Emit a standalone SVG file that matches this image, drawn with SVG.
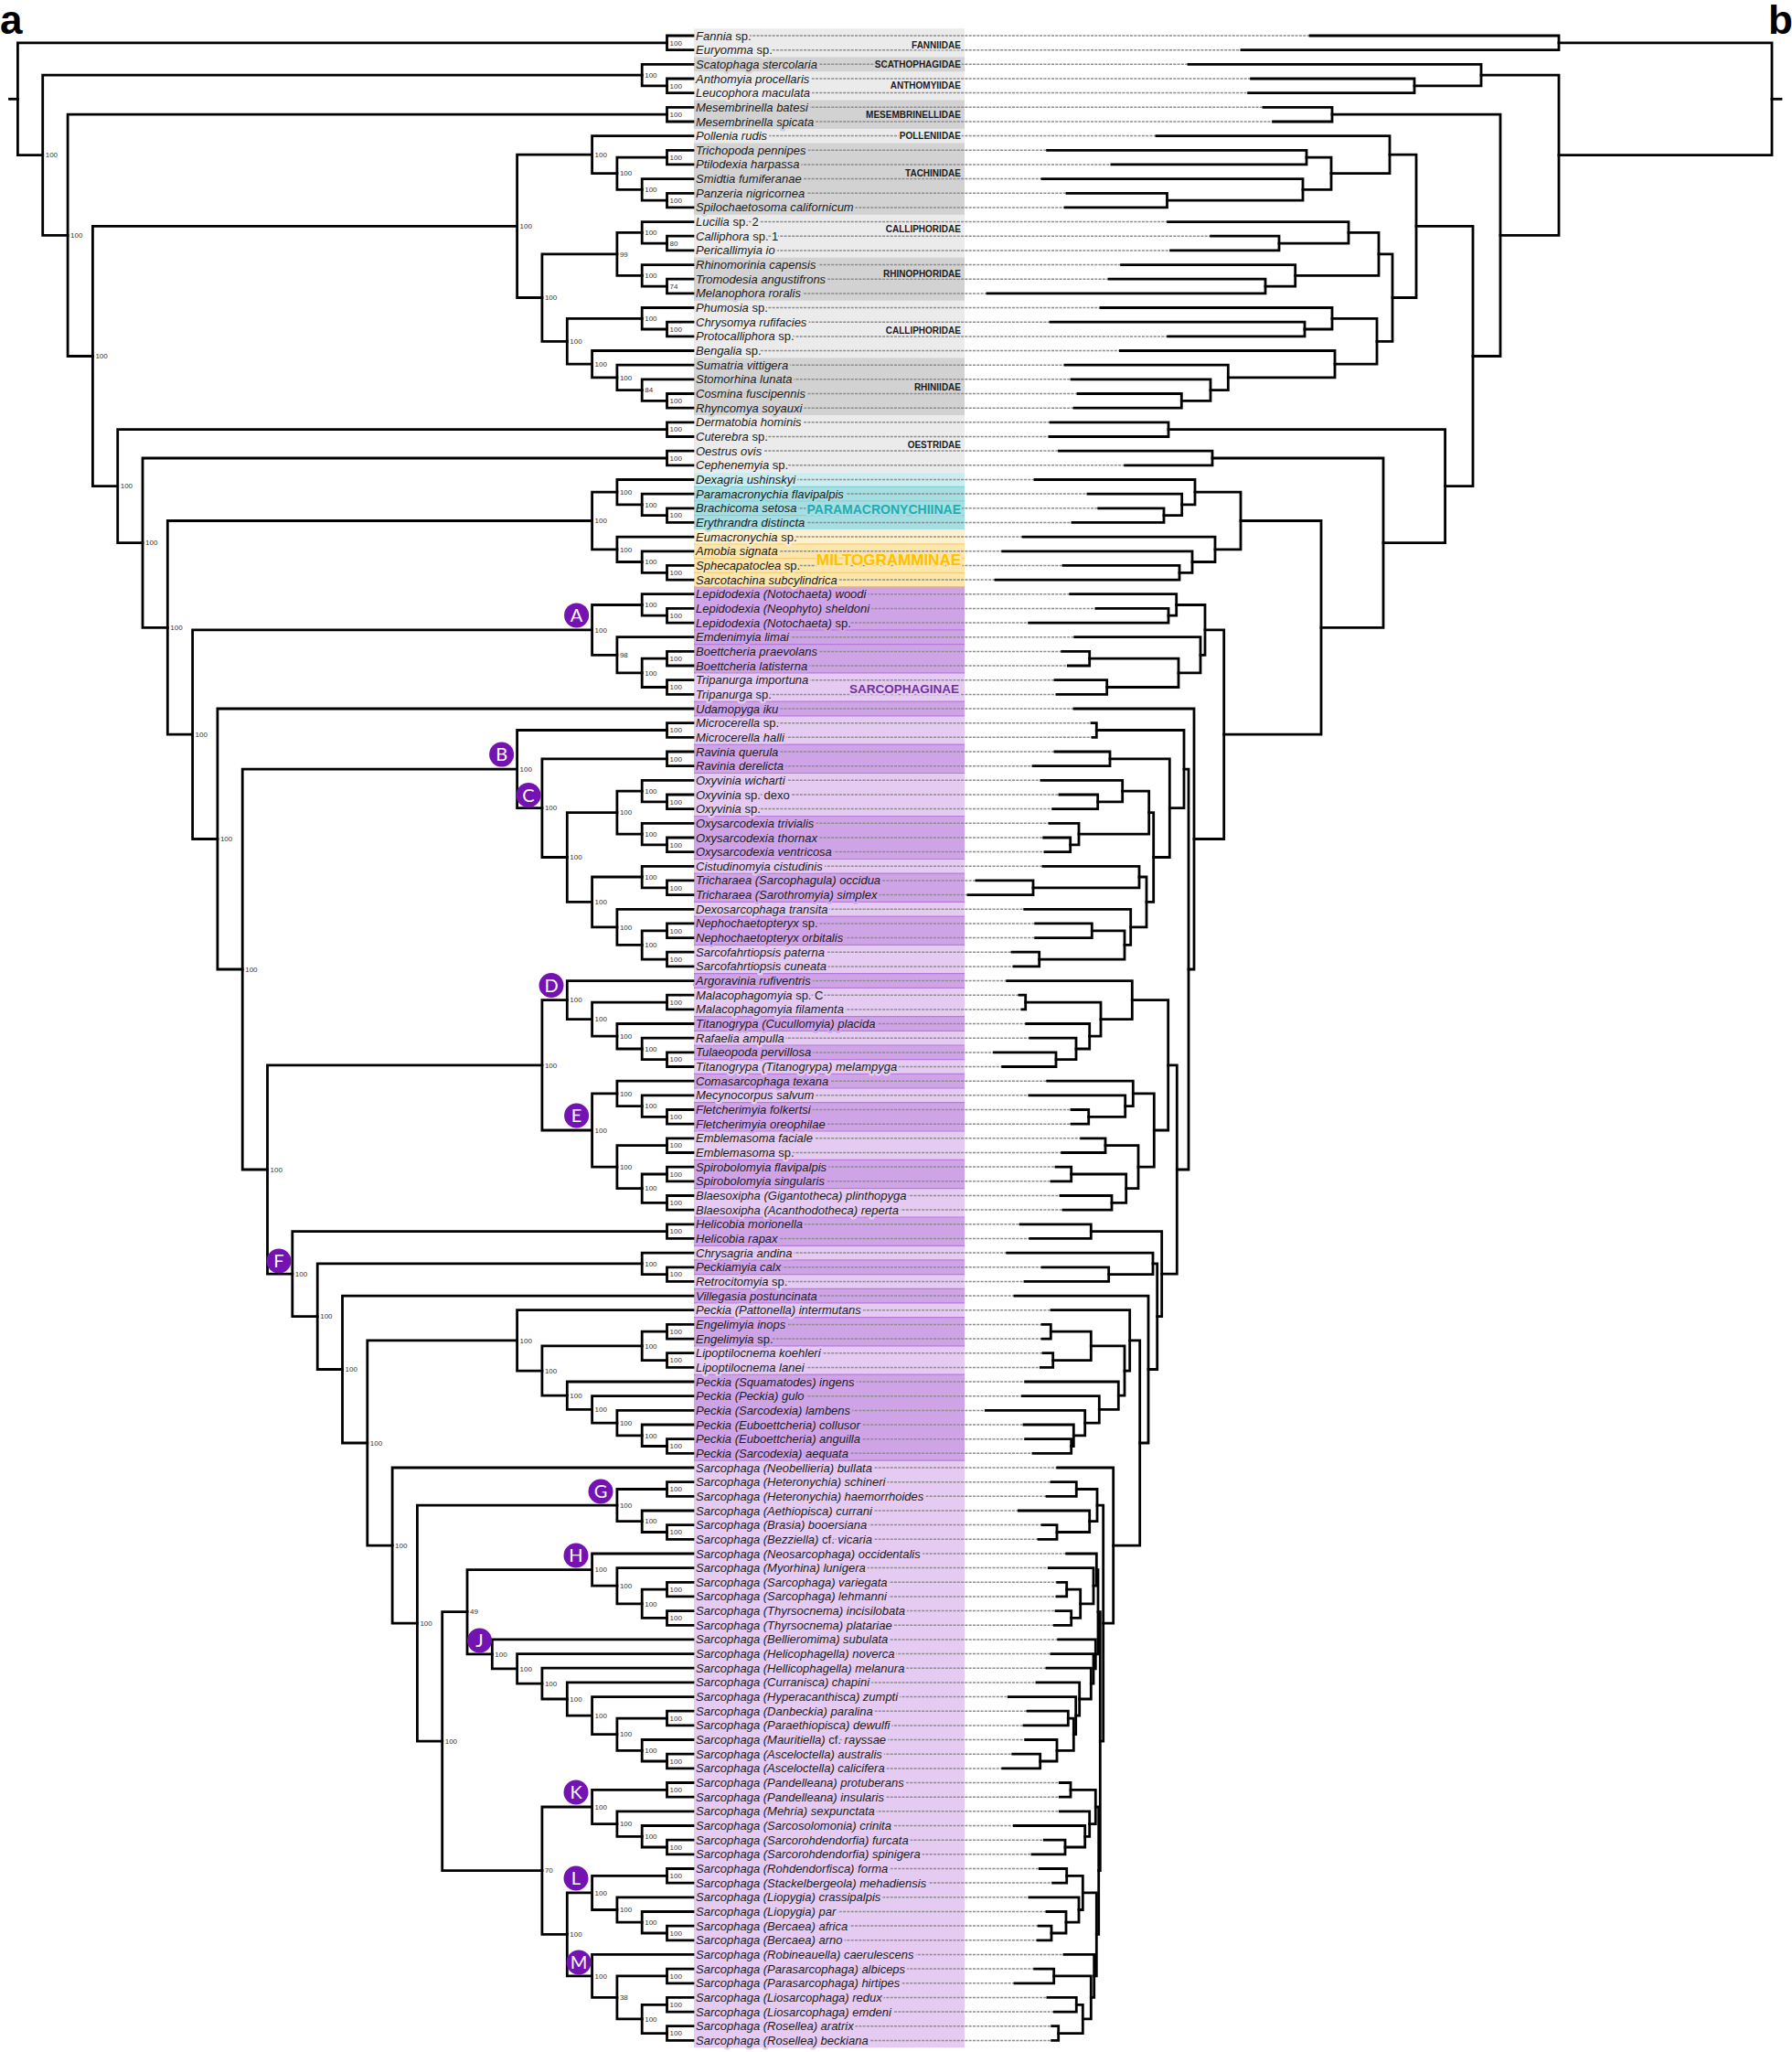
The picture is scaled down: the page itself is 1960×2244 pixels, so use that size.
<svg xmlns="http://www.w3.org/2000/svg" width="1960" height="2244" viewBox="0 0 1960 2244">
<style>
text{font-family:"Liberation Sans",Arial,sans-serif}
.b-g1{fill:#ebebeb}.b-g2{fill:#d2d2d2}.b-c1{fill:#c9edf0}.b-c2{fill:#a6dee2}.b-y1{fill:#fdf0cc}.b-y2{fill:#fde6ab}.b-p1{fill:#cfa4e7}.b-p2{fill:#e5cbf1}
.hg1{stroke:#ebebeb}.hg2{stroke:#d2d2d2}.hc1{stroke:#c9edf0}.hc2{stroke:#a6dee2}.hy1{stroke:#fdf0cc}.hy2{stroke:#fde6ab}.hp1{stroke:#cfa4e7}.hp2{stroke:#e5cbf1}
.sep{fill:none;stroke:#b47cd8;stroke-width:1.2}
.dash{fill:none;stroke:#8c8c8c;stroke-width:1.5;stroke-dasharray:3 1.3}
.br{fill:none;stroke:#000;stroke-width:2.8;stroke-linecap:square;stroke-linejoin:miter}
.tl text{font-size:13px;font-style:italic;fill:#1b1b1b;stroke-width:5;stroke-linejoin:round;paint-order:stroke}
.r{font-style:normal}
.fam{font-size:10px;font-weight:bold;fill:#1b1b1b;text-anchor:end;stroke-width:3;stroke-linejoin:round;paint-order:stroke}
.big{font-weight:bold;text-anchor:end;stroke-width:4;stroke-linejoin:round;paint-order:stroke}
.bs text{font-size:8px;fill:#333}
.cl circle{fill:#7412b2}
.cl text{font-family:Lato,"Liberation Sans",sans-serif;font-size:20px;fill:#fff;text-anchor:middle}
.pl{font-weight:bold;font-size:44px;fill:#000}
</style>
<rect width="1960" height="2244" fill="#fff"/>
<g id="bands">
<rect class="b-g1" x="759" y="31.2" width="296" height="485.4"/>
<rect class="b-g2" x="759" y="62.5" width="296" height="15.7"/>
<rect class="b-g2" x="759" y="109.5" width="296" height="31.3"/>
<rect class="b-g2" x="759" y="156.5" width="296" height="78.3"/>
<rect class="b-g2" x="759" y="281.7" width="296" height="47"/>
<rect class="b-g2" x="759" y="391.4" width="296" height="62.6"/>
<rect class="b-c1" x="759" y="516.6" width="296" height="15.7"/>
<rect class="b-c2" x="759" y="532.3" width="296" height="47"/>
<rect class="b-y1" x="759" y="579.3" width="296" height="15.7"/>
<rect class="b-y2" x="759" y="594.9" width="296" height="47"/>
<rect class="b-p2" x="759" y="641.9" width="296" height="1597.3"/>
<rect class="b-p1" x="759" y="641.9" width="296" height="94"/>
<rect class="b-p1" x="759" y="767.2" width="296" height="15.7"/>
<rect class="b-p1" x="759" y="814.2" width="296" height="31.3"/>
<rect class="b-p1" x="759" y="892.5" width="296" height="47"/>
<rect class="b-p1" x="759" y="955.1" width="296" height="31.3"/>
<rect class="b-p1" x="759" y="1002.1" width="296" height="31.3"/>
<rect class="b-p1" x="759" y="1064.7" width="296" height="15.7"/>
<rect class="b-p1" x="759" y="1111.7" width="296" height="15.7"/>
<rect class="b-p1" x="759" y="1143" width="296" height="15.7"/>
<rect class="b-p1" x="759" y="1174.4" width="296" height="15.7"/>
<rect class="b-p1" x="759" y="1205.7" width="296" height="31.3"/>
<rect class="b-p1" x="759" y="1268.3" width="296" height="31.3"/>
<rect class="b-p1" x="759" y="1331" width="296" height="31.3"/>
<rect class="b-p1" x="759" y="1377.9" width="296" height="15.7"/>
<rect class="b-p1" x="759" y="1409.3" width="296" height="15.7"/>
<rect class="b-p1" x="759" y="1440.6" width="296" height="31.3"/>
<rect class="b-p1" x="759" y="1503.2" width="296" height="94"/>
<path fill="none" stroke="#86d0d6" stroke-width="1.2" d="M759 532.3H1055M759 547.9H1055M759 563.6H1055"/>
<path fill="none" stroke="#f3cf7c" stroke-width="1.2" d="M759 594.9H1055M759 610.6H1055M759 626.3H1055"/>
<path fill="none" stroke="#e9ae72" stroke-width="1.4" d="M759 641.9H1055"/>
<path class="sep" d="M759 688.9H1055M759 704.6H1055M759 735.9H1055M759 767.2H1055M759 782.9H1055M759 814.2H1055M759 845.5H1055M759 892.5H1055M759 939.5H1055M759 955.1H1055M759 986.4H1055M759 1002.1H1055M759 1033.4H1055M759 1064.7H1055M759 1080.4H1055M759 1111.7H1055M759 1127.4H1055M759 1143H1055M759 1158.7H1055M759 1174.4H1055M759 1190H1055M759 1205.7H1055M759 1237H1055M759 1268.3H1055M759 1299.6H1055M759 1331H1055M759 1362.3H1055M759 1377.9H1055M759 1393.6H1055M759 1409.3H1055M759 1424.9H1055M759 1440.6H1055M759 1471.9H1055M759 1503.2H1055M759 1597.2H1055"/>
</g>
<g id="leaders">
<path class="dash" d="M763 39H1433M763 54.7H1358M763 70.3H1300M763 86H1368.6M763 101.6H1365.6M763 117.3H1382M763 133H1392.6M763 148.6H1265M763 164.3H1145.6M763 179.9H1216M763 195.6H1140M763 211.3H1167M763 226.9H1165M763 242.6H1277.6M763 258.2H1324.6M763 273.9H1280.6M763 289.6H1226.6M763 305.2H1213M763 320.9H1080M763 336.5H1204M763 352.2H1149M763 367.9H1277.6M763 383.5H1225.4M763 399.2H1165M763 414.8H1172M763 430.5H1179M763 446.2H1175M763 461.8H1149M763 477.5H1148M763 493.1H1158.5M763 508.8H1230.7M763 524.5H1132M763 540.1H1190M763 555.8H1201.7M763 571.4H1173M763 587.1H1119M763 602.8H1096.7M763 618.4H1163M763 634.1H1089M763 649.7H1170.7M763 665.4H1199M763 681.1H1125.7M763 696.7H1175.7M763 712.4H1161.7M763 728H1168.3M763 743.7H1154M763 759.4H1156M763 775H1175M763 790.7H1194M763 806.3H1195M763 822H1154M763 837.7H1130M763 853.3H1139M763 869H1159M763 884.6H1151.7M763 900.3H1148M763 916H1141.7M763 931.6H1143M763 947.3H1141M763 962.9H1068M763 978.6H1059M763 994.3H1120.7M763 1009.9H1132.7M763 1025.6H1132.7M763 1041.2H1107M763 1056.9H1109M763 1072.6H1101.7M763 1088.2H1115M763 1103.9H1118M763 1119.5H1122.7M763 1135.2H1126.7M763 1150.9H1087.3M763 1166.5H1096.7M763 1182.2H1145.7M763 1197.8H1126M763 1213.5H1172M763 1229.2H1172M763 1244.8H1182.7M763 1260.5H1161.7M763 1276.1H1155M763 1291.8H1150M763 1307.5H1160M763 1323.1H1163M763 1338.8H1116M763 1354.4H1126.7M763 1370.1H1101.7M763 1385.8H1140M763 1401.4H1121M763 1417.1H1110M763 1432.7H1150M763 1448.4H1140M763 1464.1H1140M763 1479.7H1141M763 1495.4H1138.3M763 1511H1121.7M763 1526.7H1118.3M763 1542.4H1078.3M763 1558H1120M763 1573.7H1121.7M763 1589.3H1130M763 1605H1156.7M763 1620.7H1150M763 1636.3H1145M763 1652H1114.3M763 1667.6H1140M763 1683.3H1136M763 1699H1166.7M763 1714.6H1147.3M763 1730.3H1156.7M763 1745.9H1156M763 1761.6H1155M763 1777.3H1153.3M763 1792.9H1157.7M763 1808.6H1150M763 1824.2H1145M763 1839.9H1134M763 1855.6H1103.3M763 1871.2H1124M763 1886.9H1120M763 1902.5H1121.7M763 1918.2H1107.7M763 1933.9H1096.7M763 1949.5H1159.3M763 1965.2H1159.3M763 1980.8H1159.3M763 1996.5H1109.3M763 2012.2H1142.3M763 2027.8H1129M763 2043.5H1137.3M763 2059.1H1151.7M763 2074.8H1126M763 2090.5H1145M763 2106.1H1136M763 2121.8H1135M763 2137.4H1164M763 2153.1H1131.7M763 2168.8H1110M763 2184.4H1146M763 2200.1H1153.3M763 2215.7H1150.7M763 2231.4H1150.7"/>
</g>
<g id="taxa" class="tl" transform="translate(761,4.5)">
<g id="t0"><text class="hg1" y="39">Fannia<tspan class="r"> sp.</tspan></text></g>
<g id="t1"><text class="hg1" y="54.7">Euryomma<tspan class="r"> sp.</tspan></text></g>
<g id="t2"><text class="hg2" y="70.3">Scatophaga stercolaria</text></g>
<g id="t3"><text class="hg1" y="86">Anthomyia procellaris</text></g>
<g id="t4"><text class="hg1" y="101.6">Leucophora maculata</text></g>
<g id="t5"><text class="hg2" y="117.3">Mesembrinella batesi</text></g>
<g id="t6"><text class="hg2" y="133">Mesembrinella spicata</text></g>
<g id="t7"><text class="hg1" y="148.6">Pollenia rudis</text></g>
<g id="t8"><text class="hg2" y="164.3">Trichopoda pennipes</text></g>
<g id="t9"><text class="hg2" y="179.9">Ptilodexia harpassa</text></g>
<g id="t10"><text class="hg2" y="195.6">Smidtia fumiferanae</text></g>
<g id="t11"><text class="hg2" y="211.3">Panzeria nigricornea</text></g>
<g id="t12"><text class="hg2" y="226.9">Spilochaetosoma californicum</text></g>
<g id="t13"><text class="hg1" y="242.6">Lucilia<tspan class="r"> sp. 2</tspan></text></g>
<g id="t14"><text class="hg1" y="258.2">Calliphora<tspan class="r"> sp. 1</tspan></text></g>
<g id="t15"><text class="hg1" y="273.9">Pericallimyia io</text></g>
<g id="t16"><text class="hg2" y="289.6">Rhinomorinia capensis</text></g>
<g id="t17"><text class="hg2" y="305.2">Tromodesia angustifrons</text></g>
<g id="t18"><text class="hg2" y="320.9">Melanophora roralis</text></g>
<g id="t19"><text class="hg1" y="336.5">Phumosia<tspan class="r"> sp.</tspan></text></g>
<g id="t20"><text class="hg1" y="352.2">Chrysomya rufifacies</text></g>
<g id="t21"><text class="hg1" y="367.9">Protocalliphora<tspan class="r"> sp.</tspan></text></g>
<g id="t22"><text class="hg1" y="383.5">Bengalia<tspan class="r"> sp.</tspan></text></g>
<g id="t23"><text class="hg2" y="399.2">Sumatria vittigera</text></g>
<g id="t24"><text class="hg2" y="414.8">Stomorhina lunata</text></g>
<g id="t25"><text class="hg2" y="430.5">Cosmina fuscipennis</text></g>
<g id="t26"><text class="hg2" y="446.2">Rhyncomya soyauxi</text></g>
<g id="t27"><text class="hg1" y="461.8">Dermatobia hominis</text></g>
<g id="t28"><text class="hg1" y="477.5">Cuterebra<tspan class="r"> sp.</tspan></text></g>
<g id="t29"><text class="hg1" y="493.1">Oestrus ovis</text></g>
<g id="t30"><text class="hg1" y="508.8">Cephenemyia<tspan class="r"> sp.</tspan></text></g>
<g id="t31"><text class="hc1" y="524.5">Dexagria ushinskyi</text></g>
<g id="t32"><text class="hc2" y="540.1">Paramacronychia flavipalpis</text></g>
<g id="t33"><text class="hc2" y="555.8">Brachicoma setosa</text></g>
<g id="t34"><text class="hc2" y="571.4">Erythrandra distincta</text></g>
<g id="t35"><text class="hy1" y="587.1">Eumacronychia<tspan class="r"> sp.</tspan></text></g>
<g id="t36"><text class="hy2" y="602.8">Amobia signata</text></g>
<g id="t37"><text class="hy2" y="618.4">Sphecapatoclea<tspan class="r"> sp.</tspan></text></g>
<g id="t38"><text class="hy2" y="634.1">Sarcotachina subcylindrica</text></g>
<g id="t39"><text class="hp1" y="649.7">Lepidodexia (Notochaeta) woodi</text></g>
<g id="t40"><text class="hp1" y="665.4">Lepidodexia (Neophyto) sheldoni</text></g>
<g id="t41"><text class="hp1" y="681.1">Lepidodexia (Notochaeta)<tspan class="r"> sp.</tspan></text></g>
<g id="t42"><text class="hp1" y="696.7">Emdenimyia limai</text></g>
<g id="t43"><text class="hp1" y="712.4">Boettcheria praevolans</text></g>
<g id="t44"><text class="hp1" y="728">Boettcheria latisterna</text></g>
<g id="t45"><text class="hp2" y="743.7">Tripanurga importuna</text></g>
<g id="t46"><text class="hp2" y="759.4">Tripanurga<tspan class="r"> sp.</tspan></text></g>
<g id="t47"><text class="hp1" y="775">Udamopyga iku</text></g>
<g id="t48"><text class="hp2" y="790.7">Microcerella<tspan class="r"> sp.</tspan></text></g>
<g id="t49"><text class="hp2" y="806.3">Microcerella halli</text></g>
<g id="t50"><text class="hp1" y="822">Ravinia querula</text></g>
<g id="t51"><text class="hp1" y="837.7">Ravinia derelicta</text></g>
<g id="t52"><text class="hp2" y="853.3">Oxyvinia wicharti</text></g>
<g id="t53"><text class="hp2" y="869">Oxyvinia<tspan class="r"> sp. dexo</tspan></text></g>
<g id="t54"><text class="hp2" y="884.6">Oxyvinia<tspan class="r"> sp.</tspan></text></g>
<g id="t55"><text class="hp1" y="900.3">Oxysarcodexia trivialis</text></g>
<g id="t56"><text class="hp1" y="916">Oxysarcodexia thornax</text></g>
<g id="t57"><text class="hp1" y="931.6">Oxysarcodexia ventricosa</text></g>
<g id="t58"><text class="hp2" y="947.3">Cistudinomyia cistudinis</text></g>
<g id="t59"><text class="hp1" y="962.9">Tricharaea (Sarcophagula) occidua</text></g>
<g id="t60"><text class="hp1" y="978.6">Tricharaea (Sarothromyia) simplex</text></g>
<g id="t61"><text class="hp2" y="994.3">Dexosarcophaga transita</text></g>
<g id="t62"><text class="hp1" y="1009.9">Nephochaetopteryx<tspan class="r"> sp.</tspan></text></g>
<g id="t63"><text class="hp1" y="1025.6">Nephochaetopteryx orbitalis</text></g>
<g id="t64"><text class="hp2" y="1041.2">Sarcofahrtiopsis paterna</text></g>
<g id="t65"><text class="hp2" y="1056.9">Sarcofahrtiopsis cuneata</text></g>
<g id="t66"><text class="hp1" y="1072.6">Argoravinia rufiventris</text></g>
<g id="t67"><text class="hp2" y="1088.2">Malacophagomyia<tspan class="r"> sp. C</tspan></text></g>
<g id="t68"><text class="hp2" y="1103.9">Malacophagomyia filamenta</text></g>
<g id="t69"><text class="hp1" y="1119.5">Titanogrypa (Cucullomyia) placida</text></g>
<g id="t70"><text class="hp2" y="1135.2">Rafaelia ampulla</text></g>
<g id="t71"><text class="hp1" y="1150.9">Tulaeopoda pervillosa</text></g>
<g id="t72"><text class="hp2" y="1166.5">Titanogrypa (Titanogrypa) melampyga</text></g>
<g id="t73"><text class="hp1" y="1182.2">Comasarcophaga texana</text></g>
<g id="t74"><text class="hp2" y="1197.8">Mecynocorpus salvum</text></g>
<g id="t75"><text class="hp1" y="1213.5">Fletcherimyia folkertsi</text></g>
<g id="t76"><text class="hp1" y="1229.2">Fletcherimyia oreophilae</text></g>
<g id="t77"><text class="hp2" y="1244.8">Emblemasoma faciale</text></g>
<g id="t78"><text class="hp2" y="1260.5">Emblemasoma<tspan class="r"> sp.</tspan></text></g>
<g id="t79"><text class="hp1" y="1276.1">Spirobolomyia flavipalpis</text></g>
<g id="t80"><text class="hp1" y="1291.8">Spirobolomyia singularis</text></g>
<g id="t81"><text class="hp2" y="1307.5">Blaesoxipha (Gigantotheca) plinthopyga</text></g>
<g id="t82"><text class="hp2" y="1323.1">Blaesoxipha (Acanthodotheca) reperta</text></g>
<g id="t83"><text class="hp1" y="1338.8">Helicobia morionella</text></g>
<g id="t84"><text class="hp1" y="1354.4">Helicobia rapax</text></g>
<g id="t85"><text class="hp2" y="1370.1">Chrysagria andina</text></g>
<g id="t86"><text class="hp1" y="1385.8">Peckiamyia calx</text></g>
<g id="t87"><text class="hp2" y="1401.4">Retrocitomyia<tspan class="r"> sp.</tspan></text></g>
<g id="t88"><text class="hp1" y="1417.1">Villegasia postuncinata</text></g>
<g id="t89"><text class="hp2" y="1432.7">Peckia (Pattonella) intermutans</text></g>
<g id="t90"><text class="hp1" y="1448.4">Engelimyia inops</text></g>
<g id="t91"><text class="hp1" y="1464.1">Engelimyia<tspan class="r"> sp.</tspan></text></g>
<g id="t92"><text class="hp2" y="1479.7">Lipoptilocnema koehleri</text></g>
<g id="t93"><text class="hp2" y="1495.4">Lipoptilocnema lanei</text></g>
<g id="t94"><text class="hp1" y="1511">Peckia (Squamatodes) ingens</text></g>
<g id="t95"><text class="hp1" y="1526.7">Peckia (Peckia) gulo</text></g>
<g id="t96"><text class="hp1" y="1542.4">Peckia (Sarcodexia) lambens</text></g>
<g id="t97"><text class="hp1" y="1558">Peckia (Euboettcheria) collusor</text></g>
<g id="t98"><text class="hp1" y="1573.7">Peckia (Euboettcheria) anguilla</text></g>
<g id="t99"><text class="hp1" y="1589.3">Peckia (Sarcodexia) aequata</text></g>
<g id="t100"><text class="hp2" y="1605">Sarcophaga (Neobellieria) bullata</text></g>
<g id="t101"><text class="hp2" y="1620.7">Sarcophaga (Heteronychia) schineri</text></g>
<g id="t102"><text class="hp2" y="1636.3">Sarcophaga (Heteronychia) haemorrhoides</text></g>
<g id="t103"><text class="hp2" y="1652">Sarcophaga (Aethiopisca) currani</text></g>
<g id="t104"><text class="hp2" y="1667.6">Sarcophaga (Brasia) booersiana</text></g>
<g id="t105"><text class="hp2" y="1683.3">Sarcophaga (Bezziella)<tspan class="r"> cf. </tspan>vicaria</text></g>
<g id="t106"><text class="hp2" y="1699">Sarcophaga (Neosarcophaga) occidentalis</text></g>
<g id="t107"><text class="hp2" y="1714.6">Sarcophaga (Myorhina) lunigera</text></g>
<g id="t108"><text class="hp2" y="1730.3">Sarcophaga (Sarcophaga) variegata</text></g>
<g id="t109"><text class="hp2" y="1745.9">Sarcophaga (Sarcophaga) lehmanni</text></g>
<g id="t110"><text class="hp2" y="1761.6">Sarcophaga (Thyrsocnema) incisilobata</text></g>
<g id="t111"><text class="hp2" y="1777.3">Sarcophaga (Thyrsocnema) platariae</text></g>
<g id="t112"><text class="hp2" y="1792.9">Sarcophaga (Bellieromima) subulata</text></g>
<g id="t113"><text class="hp2" y="1808.6">Sarcophaga (Helicophagella) noverca</text></g>
<g id="t114"><text class="hp2" y="1824.2">Sarcophaga (Hellicophagella) melanura</text></g>
<g id="t115"><text class="hp2" y="1839.9">Sarcophaga (Curranisca) chapini</text></g>
<g id="t116"><text class="hp2" y="1855.6">Sarcophaga (Hyperacanthisca) zumpti</text></g>
<g id="t117"><text class="hp2" y="1871.2">Sarcophaga (Danbeckia) paralina</text></g>
<g id="t118"><text class="hp2" y="1886.9">Sarcophaga (Paraethiopisca) dewulfi</text></g>
<g id="t119"><text class="hp2" y="1902.5">Sarcophaga (Mauritiella)<tspan class="r"> cf. </tspan>rayssae</text></g>
<g id="t120"><text class="hp2" y="1918.2">Sarcophaga (Asceloctella) australis</text></g>
<g id="t121"><text class="hp2" y="1933.9">Sarcophaga (Asceloctella) calicifera</text></g>
<g id="t122"><text class="hp2" y="1949.5">Sarcophaga (Pandelleana) protuberans</text></g>
<g id="t123"><text class="hp2" y="1965.2">Sarcophaga (Pandelleana) insularis</text></g>
<g id="t124"><text class="hp2" y="1980.8">Sarcophaga (Mehria) sexpunctata</text></g>
<g id="t125"><text class="hp2" y="1996.5">Sarcophaga (Sarcosolomonia) crinita</text></g>
<g id="t126"><text class="hp2" y="2012.2">Sarcophaga (Sarcorohdendorfia) furcata</text></g>
<g id="t127"><text class="hp2" y="2027.8">Sarcophaga (Sarcorohdendorfia) spinigera</text></g>
<g id="t128"><text class="hp2" y="2043.5">Sarcophaga (Rohdendorfisca) forma</text></g>
<g id="t129"><text class="hp2" y="2059.1">Sarcophaga (Stackelbergeola) mehadiensis</text></g>
<g id="t130"><text class="hp2" y="2074.8">Sarcophaga (Liopygia) crassipalpis</text></g>
<g id="t131"><text class="hp2" y="2090.5">Sarcophaga (Liopygia) par</text></g>
<g id="t132"><text class="hp2" y="2106.1">Sarcophaga (Bercaea) africa</text></g>
<g id="t133"><text class="hp2" y="2121.8">Sarcophaga (Bercaea) arno</text></g>
<g id="t134"><text class="hp2" y="2137.4">Sarcophaga (Robineauella) caerulescens</text></g>
<g id="t135"><text class="hp2" y="2153.1">Sarcophaga (Parasarcophaga) albiceps</text></g>
<g id="t136"><text class="hp2" y="2168.8">Sarcophaga (Parasarcophaga) hirtipes</text></g>
<g id="t137"><text class="hp2" y="2184.4">Sarcophaga (Liosarcophaga) redux</text></g>
<g id="t138"><text class="hp2" y="2200.1">Sarcophaga (Liosarcophaga) emdeni</text></g>
<g id="t139"><text class="hp2" y="2215.7">Sarcophaga (Rosellea) aratrix</text></g>
<g id="t140"><text class="hp2" y="2231.4">Sarcophaga (Rosellea) beckiana</text></g>
</g>
<g id="groups">
<text class="fam hg1" x="1051" y="52.9">FANNIIDAE</text>
<text class="fam hg2" x="1051" y="74">SCATHOPHAGIDAE</text>
<text class="fam hg1" x="1051" y="97.4">ANTHOMYIIDAE</text>
<text class="fam hg2" x="1051" y="128.8">MESEMBRINELLIDAE</text>
<text class="fam hg1" x="1051" y="152.4">POLLENIIDAE</text>
<text class="fam hg2" x="1051" y="192.6">TACHINIDAE</text>
<text class="fam hg1" x="1051" y="254.3">CALLIPHORIDAE</text>
<text class="fam hg2" x="1051" y="302.9">RHINOPHORIDAE</text>
<text class="fam hg1" x="1051" y="365.3">CALLIPHORIDAE</text>
<text class="fam hg2" x="1051" y="426.9">RHINIIDAE</text>
<text class="fam hg1" x="1051" y="489.6">OESTRIDAE</text>
<text class="big hc2" x="1051" y="561.7" font-size="14" fill="#1eadb2">PARAMACRONYCHIINAE</text>
<text class="big hy2" x="1051" y="618.4" font-size="17" fill="#ffc000">MILTOGRAMMINAE</text>
<text class="big hp2" x="1049" y="758.2" font-size="13.5" fill="#7030a0">SARCOPHAGINAE</text>
</g>
<g id="connectors">
<g id="tree-a" class="br">
<path d="M10.5 108.3H19.4"/>
<path d="M758 39H729.5V54.7H758"/>
<path d="M758 86H729.5V101.6H758"/>
<path d="M758 70.3H702.2V93.8H729.5"/>
<path d="M758 117.3H729.5V133H758"/>
<path d="M758 164.3H729.5V179.9H758"/>
<path d="M758 211.3H729.5V226.9H758"/>
<path d="M758 195.6H702.2V219.1H729.5"/>
<path d="M729.5 172.1H674.9V207.4H702.2"/>
<path d="M758 148.6H647.6V189.7H674.9"/>
<path d="M758 258.2H729.5V273.9H758"/>
<path d="M758 242.6H702.2V266.1H729.5"/>
<path d="M758 305.2H729.5V320.9H758"/>
<path d="M758 289.6H702.2V313.1H729.5"/>
<path d="M702.2 254.3H674.9V301.3H702.2"/>
<path d="M758 352.2H729.5V367.9H758"/>
<path d="M758 336.5H702.2V360H729.5"/>
<path d="M758 430.5H729.5V446.2H758"/>
<path d="M758 414.8H702.2V438.3H729.5"/>
<path d="M758 399.2H674.9V426.6H702.2"/>
<path d="M758 383.5H647.6V412.9H674.9"/>
<path d="M702.2 348.3H620.3V398.2H647.6"/>
<path d="M674.9 277.8H592.9V373.3H620.3"/>
<path d="M647.6 169.2H565.6V325.5H592.9"/>
<path d="M758 461.8H729.5V477.5H758"/>
<path d="M758 493.1H729.5V508.8H758"/>
<path d="M758 555.8H729.5V571.4H758"/>
<path d="M758 540.1H702.2V563.6H729.5"/>
<path d="M758 524.5H674.9V551.9H702.2"/>
<path d="M758 618.4H729.5V634.1H758"/>
<path d="M758 602.8H702.2V626.3H729.5"/>
<path d="M758 587.1H674.9V614.5H702.2"/>
<path d="M674.9 538.2H647.6V600.8H674.9"/>
<path d="M758 665.4H729.5V681.1H758"/>
<path d="M758 649.7H702.2V673.2H729.5"/>
<path d="M758 712.4H729.5V728H758"/>
<path d="M758 743.7H729.5V759.4H758"/>
<path d="M729.5 720.2H702.2V751.5H729.5"/>
<path d="M758 696.7H674.9V735.9H702.2"/>
<path d="M702.2 661.5H647.6V716.3H674.9"/>
<path d="M758 790.7H729.5V806.3H758"/>
<path d="M758 822H729.5V837.7H758"/>
<path d="M758 869H729.5V884.6H758"/>
<path d="M758 853.3H702.2V876.8H729.5"/>
<path d="M758 916H729.5V931.6H758"/>
<path d="M758 900.3H702.2V923.8H729.5"/>
<path d="M702.2 865.1H674.9V912.1H702.2"/>
<path d="M758 962.9H729.5V978.6H758"/>
<path d="M758 947.3H702.2V970.8H729.5"/>
<path d="M758 1009.9H729.5V1025.6H758"/>
<path d="M758 1041.2H729.5V1056.9H758"/>
<path d="M729.5 1017.8H702.2V1049.1H729.5"/>
<path d="M758 994.3H674.9V1033.4H702.2"/>
<path d="M702.2 959H647.6V1013.8H674.9"/>
<path d="M674.9 888.6H620.3V986.4H647.6"/>
<path d="M729.5 829.8H592.9V937.5H620.3"/>
<path d="M729.5 798.5H565.6V883.7H592.9"/>
<path d="M758 1088.2H729.5V1103.9H758"/>
<path d="M758 1150.9H729.5V1166.5H758"/>
<path d="M758 1135.2H702.2V1158.7H729.5"/>
<path d="M758 1119.5H674.9V1147H702.2"/>
<path d="M729.5 1096.1H647.6V1133.2H674.9"/>
<path d="M758 1072.6H620.3V1114.7H647.6"/>
<path d="M758 1213.5H729.5V1229.2H758"/>
<path d="M758 1197.8H702.2V1221.3H729.5"/>
<path d="M758 1182.2H674.9V1209.6H702.2"/>
<path d="M758 1244.8H729.5V1260.5H758"/>
<path d="M758 1276.1H729.5V1291.8H758"/>
<path d="M758 1307.5H729.5V1323.1H758"/>
<path d="M729.5 1284H702.2V1315.3H729.5"/>
<path d="M729.5 1252.7H674.9V1299.6H702.2"/>
<path d="M674.9 1195.9H647.6V1276.1H674.9"/>
<path d="M620.3 1093.6H592.9V1236H647.6"/>
<path d="M758 1338.8H729.5V1354.4H758"/>
<path d="M758 1385.8H729.5V1401.4H758"/>
<path d="M758 1370.1H702.2V1393.6H729.5"/>
<path d="M758 1448.4H729.5V1464.1H758"/>
<path d="M758 1479.7H729.5V1495.4H758"/>
<path d="M729.5 1456.2H702.2V1487.6H729.5"/>
<path d="M758 1573.7H729.5V1589.3H758"/>
<path d="M758 1558H702.2V1581.5H729.5"/>
<path d="M758 1542.4H674.9V1569.8H702.2"/>
<path d="M758 1526.7H647.6V1556.1H674.9"/>
<path d="M758 1511H620.3V1541.4H647.6"/>
<path d="M702.2 1471.9H592.9V1526.2H620.3"/>
<path d="M758 1432.7H565.6V1499.1H592.9"/>
<path d="M758 1620.7H729.5V1636.3H758"/>
<path d="M758 1667.6H729.5V1683.3H758"/>
<path d="M758 1652H702.2V1675.5H729.5"/>
<path d="M729.5 1628.5H674.9V1663.7H702.2"/>
<path d="M758 1730.3H729.5V1745.9H758"/>
<path d="M758 1761.6H729.5V1777.3H758"/>
<path d="M729.5 1738.1H702.2V1769.4H729.5"/>
<path d="M758 1714.6H674.9V1753.8H702.2"/>
<path d="M758 1699H647.6V1734.2H674.9"/>
<path d="M758 1918.2H729.5V1933.9H758"/>
<path d="M758 1902.5H702.2V1926H729.5"/>
<path d="M758 1871.2H729.5V1886.9H758"/>
<path d="M729.5 1879.1H674.9V1914.3H702.2"/>
<path d="M758 1855.6H647.6V1896.7H674.9"/>
<path d="M758 1839.9H620.3V1876.1H647.6"/>
<path d="M758 1824.2H592.9V1858H620.3"/>
<path d="M758 1808.6H565.6V1841.1H592.9"/>
<path d="M758 1792.9H538.3V1824.9H565.6"/>
<path d="M647.6 1716.6H511V1808.9H538.3"/>
<path d="M758 1949.5H729.5V1965.2H758"/>
<path d="M758 2012.2H729.5V2027.8H758"/>
<path d="M758 1996.5H702.2V2020H729.5"/>
<path d="M758 1980.8H674.9V2008.3H702.2"/>
<path d="M729.5 1957.4H647.6V1994.6H674.9"/>
<path d="M758 2043.5H729.5V2059.1H758"/>
<path d="M758 2106.1H729.5V2121.8H758"/>
<path d="M758 2090.5H702.2V2114H729.5"/>
<path d="M758 2074.8H674.9V2102.2H702.2"/>
<path d="M729.5 2051.3H647.6V2088.5H674.9"/>
<path d="M758 2153.1H729.5V2168.8H758"/>
<path d="M758 2184.4H729.5V2200.1H758"/>
<path d="M758 2215.7H729.5V2231.4H758"/>
<path d="M729.5 2192.3H702.2V2223.6H729.5"/>
<path d="M729.5 2160.9H674.9V2207.9H702.2"/>
<path d="M758 2137.4H647.6V2184.4H674.9"/>
<path d="M647.6 2069.9H620.3V2160.9H647.6"/>
<path d="M647.6 1976H592.9V2115.4H620.3"/>
<path d="M511 1762.7H483.7V2045.7H592.9"/>
<path d="M674.9 1646.1H456.4V1904.2H483.7"/>
<path d="M758 1605H429.1V1775.2H456.4"/>
<path d="M565.6 1465.9H401.8V1690.1H429.1"/>
<path d="M758 1417.1H374.5V1578H401.8"/>
<path d="M702.2 1381.9H347.2V1497.5H374.5"/>
<path d="M729.5 1346.6H319.8V1439.7H347.2"/>
<path d="M592.9 1164.8H292.5V1393.2H319.8"/>
<path d="M565.6 841.1H265.2V1279H292.5"/>
<path d="M758 775H237.9V1060H265.2"/>
<path d="M647.6 688.9H210.6V917.5H237.9"/>
<path d="M647.6 569.5H183.3V803.2H210.6"/>
<path d="M729.5 501H156V686.4H183.3"/>
<path d="M729.5 469.7H128.7V593.7H156"/>
<path d="M565.6 247.4H101.4V531.7H128.7"/>
<path d="M729.5 125.1H74.1V389.5H101.4"/>
<path d="M702.2 82.1H46.7V257.3H74.1"/>
<path d="M729.5 46.8H19.4V169.7H46.7"/>
</g>
<g id="tree-b" class="br">
<path d="M1938 108.3H1948"/>
<path d="M1433 39H1705V54.7H1358"/>
<path d="M1368.6 86H1547V101.6H1365.6"/>
<path d="M1300 70.3H1620V93.8H1547"/>
<path d="M1382 117.3H1457V133H1392.6"/>
<path d="M1145.6 164.3H1429V179.9H1216"/>
<path d="M1167 211.3H1276.5V226.9H1165"/>
<path d="M1140 195.6H1425V219.1H1276.5"/>
<path d="M1429 172.1H1456V207.4H1425"/>
<path d="M1265 148.6H1520V189.7H1456"/>
<path d="M1324.6 258.2H1399V273.9H1280.6"/>
<path d="M1277.6 242.6H1475V266.1H1399"/>
<path d="M1213 305.2H1384V320.9H1080"/>
<path d="M1226.6 289.6H1416.7V313.1H1384"/>
<path d="M1475 254.3H1508V301.3H1416.7"/>
<path d="M1149 352.2H1427V367.9H1277.6"/>
<path d="M1204 336.5H1457V360H1427"/>
<path d="M1179 430.5H1292.3V446.2H1175"/>
<path d="M1172 414.8H1324V438.3H1292.3"/>
<path d="M1165 399.2H1343.3V426.6H1324"/>
<path d="M1225.4 383.5H1460V412.9H1343.3"/>
<path d="M1457 348.3H1506V398.2H1460"/>
<path d="M1508 277.8H1523V373.3H1506"/>
<path d="M1520 169.2H1549V325.5H1523"/>
<path d="M1149 461.8H1278V477.5H1148"/>
<path d="M1158.5 493.1H1326V508.8H1230.7"/>
<path d="M1201.7 555.8H1273V571.4H1173"/>
<path d="M1190 540.1H1292.7V563.6H1273"/>
<path d="M1132 524.5H1307V551.9H1292.7"/>
<path d="M1163 618.4H1290V634.1H1089"/>
<path d="M1096.7 602.8H1304V626.3H1290"/>
<path d="M1119 587.1H1329V614.5H1304"/>
<path d="M1307 538.2H1357V600.8H1329"/>
<path d="M1199 665.4H1278V681.1H1125.7"/>
<path d="M1170.7 649.7H1286.7V673.2H1278"/>
<path d="M1161.7 712.4H1191.7V728H1168.3"/>
<path d="M1154 743.7H1210.7V759.4H1156"/>
<path d="M1191.7 720.2H1289V751.5H1210.7"/>
<path d="M1175.7 696.7H1313V735.9H1289"/>
<path d="M1286.7 661.5H1318V716.3H1313"/>
<path d="M1194 790.7H1199.3V806.3H1195"/>
<path d="M1154 822H1214V837.7H1130"/>
<path d="M1159 869H1200.7V884.6H1151.7"/>
<path d="M1139 853.3H1227.7V876.8H1200.7"/>
<path d="M1141.7 916H1170.7V931.6H1143"/>
<path d="M1148 900.3H1180V923.8H1170.7"/>
<path d="M1227.7 865.1H1256.7V912.1H1180"/>
<path d="M1068 962.9H1130V978.6H1059"/>
<path d="M1141 947.3H1246V970.8H1130"/>
<path d="M1132.7 1009.9H1194.3V1025.6H1132.7"/>
<path d="M1107 1041.2H1136.7V1056.9H1109"/>
<path d="M1194.3 1017.8H1230V1049.1H1136.7"/>
<path d="M1120.7 994.3H1236.7V1033.4H1230"/>
<path d="M1246 959H1254V1013.8H1236.7"/>
<path d="M1256.7 888.6H1261.7V986.4H1254"/>
<path d="M1214 829.8H1279.3V937.5H1261.7"/>
<path d="M1199.3 798.5H1295V883.7H1279.3"/>
<path d="M1115 1088.2H1121.7V1103.9H1118"/>
<path d="M1087.3 1150.9H1155V1166.5H1096.7"/>
<path d="M1126.7 1135.2H1177V1158.7H1155"/>
<path d="M1122.7 1119.5H1191.7V1147H1177"/>
<path d="M1121.7 1096.1H1204V1133.2H1191.7"/>
<path d="M1101.7 1072.6H1238.3V1114.7H1204"/>
<path d="M1172 1213.5H1190.7V1229.2H1172"/>
<path d="M1126 1197.8H1230.7V1221.3H1190.7"/>
<path d="M1145.7 1182.2H1239.3V1209.6H1230.7"/>
<path d="M1182.7 1244.8H1209V1260.5H1161.7"/>
<path d="M1155 1276.1H1171.7V1291.8H1150"/>
<path d="M1160 1307.5H1216V1323.1H1163"/>
<path d="M1171.7 1284H1231.7V1315.3H1216"/>
<path d="M1209 1252.7H1245V1299.6H1231.7"/>
<path d="M1239.3 1195.9H1262.3V1276.1H1245"/>
<path d="M1238.3 1093.6H1277.7V1236H1262.3"/>
<path d="M1116 1338.8H1193.3V1354.4H1126.7"/>
<path d="M1140 1385.8H1212.7V1401.4H1121"/>
<path d="M1101.7 1370.1H1261V1393.6H1212.7"/>
<path d="M1140 1448.4H1149.3V1464.1H1140"/>
<path d="M1141 1479.7H1151.7V1495.4H1138.3"/>
<path d="M1149.3 1456.2H1193.3V1487.6H1151.7"/>
<path d="M1121.7 1573.7H1171.7V1589.3H1130"/>
<path d="M1120 1558H1174.3V1581.5H1171.7"/>
<path d="M1078.3 1542.4H1186.7V1569.8H1174.3"/>
<path d="M1118.3 1526.7H1202.3V1556.1H1186.7"/>
<path d="M1121.7 1511H1223.3V1541.4H1202.3"/>
<path d="M1193.3 1471.9H1230V1526.2H1223.3"/>
<path d="M1150 1432.7H1235.7V1499.1H1230"/>
<path d="M1150 1620.7H1177.3V1636.3H1145"/>
<path d="M1140 1667.6H1156V1683.3H1136"/>
<path d="M1114.3 1652H1191.7V1675.5H1156"/>
<path d="M1177.3 1628.5H1200V1663.7H1191.7"/>
<path d="M1156.7 1730.3H1166.7V1745.9H1156"/>
<path d="M1155 1761.6H1171.7V1777.3H1153.3"/>
<path d="M1166.7 1738.1H1181.7V1769.4H1171.7"/>
<path d="M1147.3 1714.6H1196V1753.8H1181.7"/>
<path d="M1166.7 1699H1199.3V1734.2H1196"/>
<path d="M1107.7 1918.2H1137.7V1933.9H1096.7"/>
<path d="M1121.7 1902.5H1156V1926H1137.7"/>
<path d="M1124 1871.2H1168.3V1886.9H1120"/>
<path d="M1168.3 1879.1H1174.3V1914.3H1156"/>
<path d="M1103.3 1855.6H1176.7V1896.7H1174.3"/>
<path d="M1134 1839.9H1180.7V1876.1H1176.7"/>
<path d="M1145 1824.2H1193.3V1858H1180.7"/>
<path d="M1150 1808.6H1196V1841.1H1193.3"/>
<path d="M1157.7 1792.9H1198.3V1824.9H1196"/>
<path d="M1199.3 1716.6H1201V1808.9H1198.3"/>
<path d="M1159.3 1949.5H1171V1965.2H1159.3"/>
<path d="M1142.3 2012.2H1165V2027.8H1129"/>
<path d="M1109.3 1996.5H1186.7V2020H1165"/>
<path d="M1159.3 1980.8H1191.7V2008.3H1186.7"/>
<path d="M1171 1957.4H1198.3V1994.6H1191.7"/>
<path d="M1137.3 2043.5H1166.7V2059.1H1151.7"/>
<path d="M1136 2106.1H1150V2121.8H1135"/>
<path d="M1145 2090.5H1166V2114H1150"/>
<path d="M1126 2074.8H1180V2102.2H1166"/>
<path d="M1166.7 2051.3H1184.3V2088.5H1180"/>
<path d="M1131.7 2153.1H1152.7V2168.8H1110"/>
<path d="M1146 2184.4H1177.3V2200.1H1153.3"/>
<path d="M1150.7 2215.7H1157.7V2231.4H1150.7"/>
<path d="M1177.3 2192.3H1184.3V2223.6H1157.7"/>
<path d="M1152.7 2160.9H1193.3V2207.9H1184.3"/>
<path d="M1164 2137.4H1196.7V2184.4H1193.3"/>
<path d="M1184.3 2069.9H1199.3V2160.9H1196.7"/>
<path d="M1198.3 1976H1201.7V2115.4H1199.3"/>
<path d="M1201 1762.7H1203.3V2045.7H1201.7"/>
<path d="M1200 1646.1H1206.7V1904.2H1203.3"/>
<path d="M1156.7 1605H1217.7V1775.2H1206.7"/>
<path d="M1235.7 1465.9H1246.7V1690.1H1217.7"/>
<path d="M1110 1417.1H1256V1578H1246.7"/>
<path d="M1261 1381.9H1265.7V1497.5H1256"/>
<path d="M1193.3 1346.6H1270.7V1439.7H1265.7"/>
<path d="M1277.7 1164.8H1287.3V1393.2H1270.7"/>
<path d="M1295 841.1H1300V1279H1287.3"/>
<path d="M1175 775H1306V1060H1300"/>
<path d="M1318 688.9H1338.7V917.5H1306"/>
<path d="M1357 569.5H1445V803.2H1338.7"/>
<path d="M1326 501H1513V686.4H1445"/>
<path d="M1278 469.7H1580.6V593.7H1513"/>
<path d="M1549 247.4H1611V531.7H1580.6"/>
<path d="M1457 125.1H1641V389.5H1611"/>
<path d="M1620 82.1H1705V257.3H1641"/>
<path d="M1705 46.8H1938V169.7H1705"/>
</g>
</g>
<g id="support" class="bs" transform="translate(3,2.8)">
<text x="729.5" y="46.8">100</text><text x="729.5" y="93.8">100</text><text x="702.2" y="82.1">100</text><text x="729.5" y="125.1">100</text>
<text x="729.5" y="172.1">100</text><text x="729.5" y="219.1">100</text><text x="702.2" y="207.4">100</text><text x="674.9" y="189.7">100</text><text x="647.6" y="169.2">100</text>
<text x="729.5" y="266.1">80</text><text x="702.2" y="254.3">100</text><text x="729.5" y="313.1">74</text><text x="702.2" y="301.3">100</text><text x="674.9" y="277.8">99</text>
<text x="729.5" y="360">100</text><text x="702.2" y="348.3">100</text><text x="729.5" y="438.3">100</text><text x="702.2" y="426.6">84</text><text x="674.9" y="412.9">100</text><text x="647.6" y="398.2">100</text>
<text x="620.3" y="373.3">100</text><text x="592.9" y="325.5">100</text><text x="565.6" y="247.4">100</text><text x="729.5" y="469.7">100</text><text x="729.5" y="501">100</text>
<text x="729.5" y="563.6">100</text><text x="702.2" y="551.9">100</text><text x="674.9" y="538.2">100</text><text x="729.5" y="626.3">100</text><text x="702.2" y="614.5">100</text><text x="674.9" y="600.8">100</text><text x="647.6" y="569.5">100</text>
<text x="729.5" y="673.2">100</text><text x="702.2" y="661.5">100</text><text x="729.5" y="720.2">100</text><text x="729.5" y="751.5">100</text><text x="702.2" y="735.9">100</text><text x="674.9" y="716.3">98</text><text x="647.6" y="688.9">100</text>
<text x="729.5" y="798.5">100</text><text x="729.5" y="829.8">100</text><text x="729.5" y="876.8">100</text><text x="702.2" y="865.1">100</text><text x="729.5" y="923.8">100</text><text x="702.2" y="912.1">100</text><text x="674.9" y="888.6">100</text>
<text x="729.5" y="970.8">100</text><text x="702.2" y="959">100</text><text x="729.5" y="1017.8">100</text><text x="729.5" y="1049.1">100</text><text x="702.2" y="1033.4">100</text><text x="674.9" y="1013.8">100</text><text x="647.6" y="986.4">100</text>
<text x="620.3" y="937.5">100</text><text x="592.9" y="883.7">100</text><text x="565.6" y="841.1">100</text>
<text x="729.5" y="1096.1">100</text><text x="729.5" y="1158.7">100</text><text x="702.2" y="1147">100</text><text x="674.9" y="1133.2">100</text><text x="647.6" y="1114.7">100</text><text x="620.3" y="1093.6">100</text>
<text x="729.5" y="1221.3">100</text><text x="702.2" y="1209.6">100</text><text x="674.9" y="1195.9">100</text><text x="729.5" y="1252.7">100</text><text x="729.5" y="1284">100</text><text x="729.5" y="1315.3">100</text><text x="702.2" y="1299.6">100</text><text x="674.9" y="1276.1">100</text><text x="647.6" y="1236">100</text><text x="592.9" y="1164.8">100</text>
<text x="729.5" y="1346.6">100</text><text x="729.5" y="1393.6">100</text><text x="702.2" y="1381.9">100</text><text x="729.5" y="1456.2">100</text><text x="729.5" y="1487.6">100</text><text x="702.2" y="1471.9">100</text>
<text x="729.5" y="1581.5">100</text><text x="702.2" y="1569.8">100</text><text x="674.9" y="1556.1">100</text><text x="647.6" y="1541.4">100</text><text x="620.3" y="1526.2">100</text><text x="592.9" y="1499.1">100</text><text x="565.6" y="1465.9">100</text>
<text x="729.5" y="1628.5">100</text><text x="729.5" y="1675.5">100</text><text x="702.2" y="1663.7">100</text><text x="674.9" y="1646.1">100</text>
<text x="729.5" y="1738.1">100</text><text x="729.5" y="1769.4">100</text><text x="702.2" y="1753.8">100</text><text x="674.9" y="1734.2">100</text><text x="647.6" y="1716.6">100</text>
<text x="729.5" y="1926">100</text><text x="702.2" y="1914.3">100</text><text x="729.5" y="1879.1">100</text><text x="674.9" y="1896.7">100</text><text x="647.6" y="1876.1">100</text><text x="620.3" y="1858">100</text><text x="592.9" y="1841.1">100</text><text x="565.6" y="1824.9">100</text><text x="538.3" y="1808.9">100</text><text x="511" y="1762.7">49</text>
<text x="729.5" y="1957.4">100</text><text x="729.5" y="2020">100</text><text x="702.2" y="2008.3">100</text><text x="674.9" y="1994.6">100</text><text x="647.6" y="1976">100</text>
<text x="729.5" y="2051.3">100</text><text x="729.5" y="2114">100</text><text x="702.2" y="2102.2">100</text><text x="674.9" y="2088.5">100</text><text x="647.6" y="2069.9">100</text>
<text x="729.5" y="2160.9">100</text><text x="729.5" y="2192.3">100</text><text x="729.5" y="2223.6">100</text><text x="702.2" y="2207.9">100</text><text x="674.9" y="2184.4">38</text><text x="647.6" y="2160.9">100</text>
<text x="620.3" y="2115.4">100</text><text x="592.9" y="2045.7">70</text><text x="483.7" y="1904.2">100</text><text x="456.4" y="1775.2">100</text><text x="429.1" y="1690.1">100</text><text x="401.8" y="1578">100</text>
<text x="374.5" y="1497.5">100</text><text x="347.2" y="1439.7">100</text><text x="319.8" y="1393.2">100</text><text x="292.5" y="1279">100</text><text x="265.2" y="1060">100</text><text x="237.9" y="917.5">100</text>
<text x="210.6" y="803.2">100</text><text x="183.3" y="686.4">100</text><text x="156" y="593.7">100</text><text x="128.7" y="531.7">100</text><text x="101.4" y="389.5">100</text><text x="74.1" y="257.3">100</text><text x="46.7" y="169.7">100</text>
</g>
<g id="clades" class="cl">
<g id="clade-A"><circle cx="630.6" cy="672.9" r="13.5"/><text x="630.6" y="680">A</text></g>
<g id="clade-B"><circle cx="548.6" cy="825.1" r="13.5"/><text x="548.6" y="832.2">B</text></g>
<g id="clade-C"><circle cx="578" cy="869.5" r="13.5"/><text x="578" y="876.6">C</text></g>
<g id="clade-D"><circle cx="603" cy="1077.5" r="13.5"/><text x="603" y="1084.6">D</text></g>
<g id="clade-E"><circle cx="630.6" cy="1220" r="13.5"/><text x="630.6" y="1227.1">E</text></g>
<g id="clade-F"><circle cx="305" cy="1379" r="13.5"/><text x="305" y="1386.1">F</text></g>
<g id="clade-G"><circle cx="657" cy="1631" r="13.5"/><text x="657" y="1638.1">G</text></g>
<g id="clade-H"><circle cx="630" cy="1701" r="13.5"/><text x="630" y="1708.1">H</text></g>
<g id="clade-J"><circle cx="524.5" cy="1794" r="13.5"/><text x="524.5" y="1801.1">J</text></g>
<g id="clade-K"><circle cx="630" cy="1960" r="13.5"/><text x="630" y="1967.1">K</text></g>
<g id="clade-L"><circle cx="630" cy="2054" r="13.5"/><text x="630" y="2061.1">L</text></g>
<g id="clade-M"><circle cx="633" cy="2146" r="13.5"/><text x="633" y="2153.1">M</text></g>
</g>
<text class="pl" x="0" y="37">a</text>
<text class="pl" x="1934" y="37" font-size="42">b</text>
</svg>
